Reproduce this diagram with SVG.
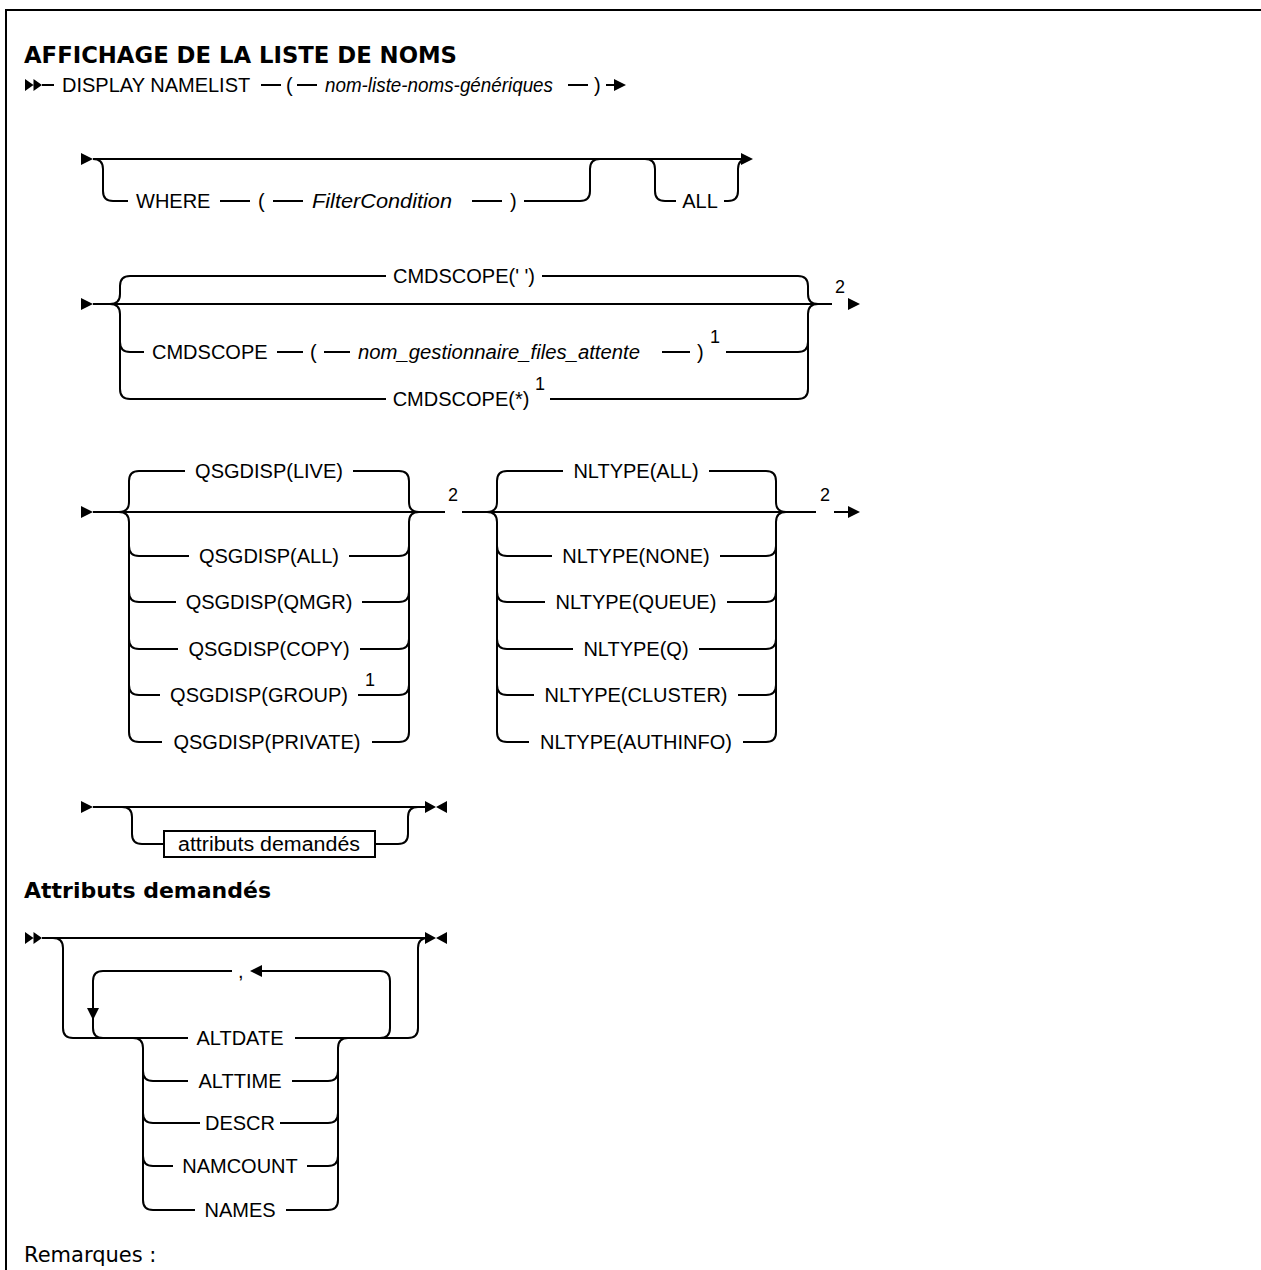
<svg xmlns="http://www.w3.org/2000/svg" width="1261" height="1270" viewBox="0 0 1261 1270">
<style>
.l{fill:none;stroke:#000;stroke-width:2}
.a{fill:#000;stroke:none}
.t{font-family:"Liberation Sans",Arial,sans-serif;font-size:20px;fill:#000}
.c{text-anchor:middle}
.i{font-style:italic}
.s{font-family:"Liberation Sans",Arial,sans-serif;font-size:18px;fill:#000;text-anchor:middle}
.h{font-family:"DejaVu Sans","Liberation Sans",sans-serif;font-weight:bold;fill:#000}
.r{font-family:"DejaVu Sans","Liberation Sans",sans-serif;font-size:21px;fill:#000}
</style>
<defs>
<path id="tri" d="M0,-6 L12,0 L0,6 Z"/>
<path id="dbl" d="M0,-6 L8.5,0 L0,6 Z M8.5,-6 L17,0 L8.5,6 Z"/>
<path id="end" d="M0,-6 L11,0 L0,6 Z M22,-6 L11,0 L22,6 Z"/>
</defs>
<rect x="6" y="10" width="1300" height="1300" class="l"/>
<text class="h" x="24" y="63" font-size="23" textLength="433" lengthAdjust="spacingAndGlyphs">AFFICHAGE DE LA LISTE DE NOMS</text>

<g id="row1">
<use href="#dbl" x="25" y="85" class="a"/>
<path class="l" d="M42,85 H54 M261,85 H281 M297,85 H317 M568,85 H588 M606,85 H616"/>
<use href="#tri" x="614" y="85" class="a"/>
<text class="t" x="62" y="92">DISPLAY NAMELIST</text>
<text class="t" x="286" y="92">(</text>
<text class="t i" x="325" y="92" textLength="228" lengthAdjust="spacingAndGlyphs">nom-liste-noms-génériques</text>
<text class="t" x="594" y="92">)</text>
</g>

<g id="row2">
<use href="#tri" x="81" y="159" class="a"/>
<path class="l" d="M93,159 H742"/>
<use href="#tri" x="741" y="159" class="a"/>
<g id="where">
<path class="l" d="M93,159 Q103,159 103,169 V191 Q103,201 113,201 H128 M220,201 H250 M273,201 H303 M472,201 H502 M524,201 H580 Q590,201 590,191 V169 Q590,159 600,159"/>
<text class="t" x="136" y="208">WHERE</text>
<text class="t" x="258" y="208">(</text>
<text class="t i" x="312" y="208" textLength="140" lengthAdjust="spacingAndGlyphs">FilterCondition</text>
<text class="t" x="510" y="208">)</text>
</g>
<g id="all">
<path class="l" d="M645,159 Q655,159 655,169 V191 Q655,201 665,201 H676 M724,201 H728 Q738,201 738,191 V169 Q738,159 748,159"/>
<text class="t c" x="700" y="208">ALL</text>
</g>
</g>

<g id="row3">
<use href="#tri" x="81" y="304" class="a"/>
<path class="l" d="M93,304 H832"/>
<text class="s" x="840" y="293">2</text>
<use href="#tri" x="848" y="304" class="a"/>
<path class="l" d="M110,304 Q120,304 120,294 V286 Q120,276 130,276 H386 M542,276 H798 Q808,276 808,286 V294 Q808,304 818,304"/>
<text class="t c" x="464" y="283">CMDSCOPE(' ')</text>
<path class="l" d="M110,304 Q120,304 120,314 V389 Q120,399 130,399 H386 M550,399 H798 Q808,399 808,389 V314 Q808,304 818,304"/>
<text class="t c" x="461" y="406">CMDSCOPE(*)</text>
<text class="s" x="540" y="390">1</text>
<path class="l" d="M120,342 Q120,352 130,352 H144 M277,352 H303 M324,352 H350 M662,352 H690 M726,352 H798 Q808,352 808,342"/>
<text class="t" x="152" y="359">CMDSCOPE</text>
<text class="t" x="310" y="359">(</text>
<text class="t i" x="358" y="359" textLength="282" lengthAdjust="spacingAndGlyphs">nom_gestionnaire_files_attente</text>
<text class="t" x="697" y="359">)</text>
<text class="s" x="715" y="343">1</text>
</g>

<g id="row4">
<use href="#tri" x="81" y="512" class="a"/>
<path class="l" d="M93,512 H445 M462,512 H816 M834,512 H849"/>
<text class="s" x="453" y="501">2</text>
<text class="s" x="825" y="501">2</text>
<use href="#tri" x="848" y="512" class="a"/>
<g id="qsgdisp">
<path class="l" d="M119,512 Q129,512 129,502 V481 Q129,471 139,471 H185 M353,471 H399 Q409,471 409,481 V502 Q409,512 419,512"/>
<path class="l" d="M119,512 Q129,512 129,522 V732 Q129,742 139,742 H162 M372,742 H399 Q409,742 409,732 V522 Q409,512 419,512"/>
<path class="l" d="M129,546 Q129,556 139,556 H189 M349,556 H399 Q409,556 409,546"/>
<path class="l" d="M129,592 Q129,602 139,602 H176 M362,602 H399 Q409,602 409,592"/>
<path class="l" d="M129,639 Q129,649 139,649 H178 M360,649 H399 Q409,649 409,639"/>
<path class="l" d="M129,685 Q129,695 139,695 H160 M358,695 H399 Q409,695 409,685"/>
<text class="t c" x="269" y="478">QSGDISP(LIVE)</text>
<text class="t c" x="269" y="563">QSGDISP(ALL)</text>
<text class="t c" x="269" y="609">QSGDISP(QMGR)</text>
<text class="t c" x="269" y="656">QSGDISP(COPY)</text>
<text class="t c" x="259" y="702">QSGDISP(GROUP)</text>
<text class="s" x="370" y="686">1</text>
<text class="t c" x="267" y="749">QSGDISP(PRIVATE)</text>
</g>
<g id="nltype">
<path class="l" d="M487,512 Q497,512 497,502 V481 Q497,471 507,471 H563 M709,471 H766 Q776,471 776,481 V502 Q776,512 786,512"/>
<path class="l" d="M487,512 Q497,512 497,522 V732 Q497,742 507,742 H529 M743,742 H766 Q776,742 776,732 V522 Q776,512 786,512"/>
<path class="l" d="M497,546 Q497,556 507,556 H552 M720,556 H766 Q776,556 776,546"/>
<path class="l" d="M497,592 Q497,602 507,602 H545 M727,602 H766 Q776,602 776,592"/>
<path class="l" d="M497,639 Q497,649 507,649 H573 M699,649 H766 Q776,649 776,639"/>
<path class="l" d="M497,685 Q497,695 507,695 H534 M738,695 H766 Q776,695 776,685"/>
<text class="t c" x="636" y="478">NLTYPE(ALL)</text>
<text class="t c" x="636" y="563">NLTYPE(NONE)</text>
<text class="t c" x="636" y="609">NLTYPE(QUEUE)</text>
<text class="t c" x="636" y="656">NLTYPE(Q)</text>
<text class="t c" x="636" y="702">NLTYPE(CLUSTER)</text>
<text class="t c" x="636" y="749">NLTYPE(AUTHINFO)</text>
</g>
</g>

<g id="row5">
<use href="#tri" x="81" y="807" class="a"/>
<path class="l" d="M93,807 H425"/>
<use href="#end" x="425" y="807" class="a"/>
<path class="l" d="M122,807 Q132,807 132,817 V834 Q132,844 142,844 H164 M375,844 H398 Q408,844 408,834 V817 Q408,807 418,807"/>
<rect x="164" y="831" width="211" height="26" fill="#fff" stroke="#000" stroke-width="2"/>
<text class="t c" x="269" y="851" textLength="182" lengthAdjust="spacingAndGlyphs">attributs demandés</text>
</g>

<text class="h" x="24" y="898" font-size="22">Attributs demandés</text>

<g id="row6">
<use href="#dbl" x="25" y="938" class="a"/>
<path class="l" d="M42,938 H425"/>
<use href="#end" x="425" y="938" class="a"/>
<path class="l" d="M53,938 Q63,938 63,948 V1028 Q63,1038 73,1038 H188 M295,1038 H408 Q418,1038 418,1028 V948 Q418,938 428,938"/>
<path class="l" d="M103,1038 Q93,1038 93,1028 V981 Q93,971 103,971 H232 M262,971 H380 Q390,971 390,981 V1028 Q390,1038 380,1038"/>
<path class="a" d="M87,1008 L99,1008 L93,1020 Z"/>
<path class="a" d="M250,971 L262,965 L262,977 Z"/>
<text class="t" x="238" y="978">,</text>
<path class="l" d="M133,1038 Q143,1038 143,1048 V1200 Q143,1210 153,1210 H195 M286,1210 H328 Q338,1210 338,1200 V1048 Q338,1038 348,1038"/>
<path class="l" d="M143,1071 Q143,1081 153,1081 H188 M292,1081 H328 Q338,1081 338,1071"/>
<path class="l" d="M143,1113 Q143,1123 153,1123 H200 M280,1123 H328 Q338,1123 338,1113"/>
<path class="l" d="M143,1156 Q143,1166 153,1166 H173 M307,1166 H328 Q338,1166 338,1156"/>
<text class="t c" x="240" y="1045">ALTDATE</text>
<text class="t c" x="240" y="1088">ALTTIME</text>
<text class="t c" x="240" y="1130">DESCR</text>
<text class="t c" x="240" y="1173">NAMCOUNT</text>
<text class="t c" x="240" y="1217">NAMES</text>
</g>

<text class="r" x="24" y="1262">Remarques :</text>
</svg>
